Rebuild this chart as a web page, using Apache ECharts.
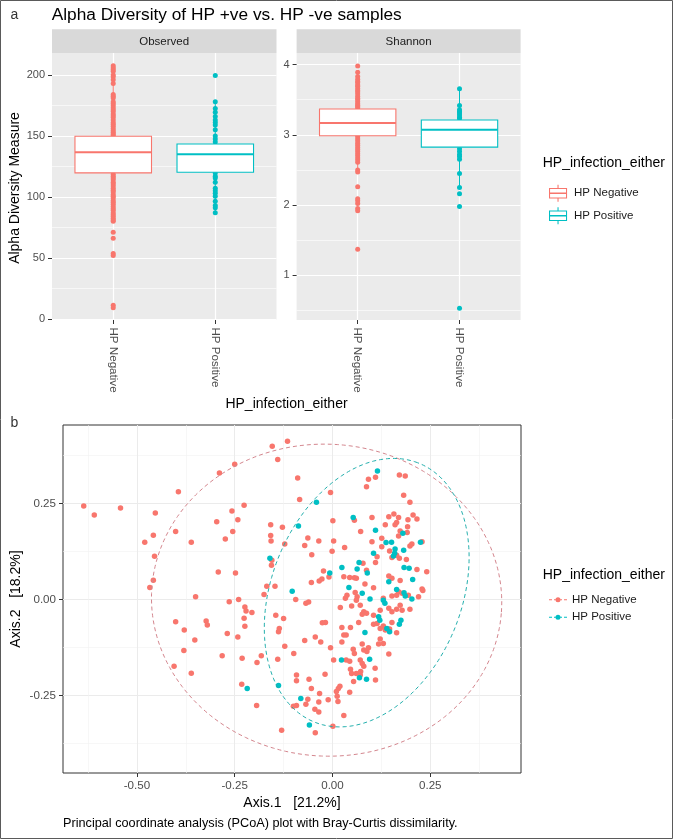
<!DOCTYPE html>
<html>
<head>
<meta charset="utf-8">
<script src="https://cdn.jsdelivr.net/npm/echarts@6/dist/echarts.min.js"></script>
<style>
html,body{margin:0;padding:0;background:#fff;}
#chart{width:673px;height:839px;}
</style>
</head>
<body>
<div id="chart"></div>
<script>
// ---------- data ----------
const categories = ['HP Negative', 'HP Positive'];

// Panel a: alpha diversity sample values (one dot per sample)
const observedNegative = [207.5, 206, 204.5, 203, 200, 198.5, 196, 193, 184, 182.5, 181, 178, 176.5, 175, 173, 171.5, 170, 168, 166.5, 165, 163, 161, 159.5, 158, 156, 154.5, 153, 151.5, 150.5,
  122, 126, 131, 136, 141, 146,
  118.5, 117, 115.5, 114, 112, 110.5, 109, 107, 105.5, 104, 102, 100.5, 99, 97, 95.5, 94, 92, 90.5, 89, 87, 85.5, 84, 82.5, 81, 80, 71, 66, 53.5, 52, 11, 9];
const observedPositive = [199.5, 178, 172.5, 169.5, 166, 163, 161, 159, 155, 150, 147.5, 145,
  124, 128, 132, 136, 140,
  119.5, 117, 115.5, 112, 107, 105, 103, 100.5, 96.5, 93, 91, 87];
const shannonNegative = [3.98, 3.89, 3.83, 3.79, 3.76, 3.74, 3.71, 3.69, 3.66, 3.63, 3.61, 3.58, 3.55, 3.52, 3.50, 3.47, 3.44, 3.42, 3.40, 3.38,
  3.0, 3.1, 3.2, 3.3,
  2.97, 2.94, 2.91, 2.88, 2.85, 2.82, 2.79, 2.76, 2.73, 2.70, 2.67, 2.64, 2.61, 2.50, 2.47, 2.26, 2.09, 2.06, 2.02, 1.95, 1.92, 1.37];
const shannonPositive = [3.656, 3.418, 3.356, 3.33, 3.31, 3.28, 3.25, 3.23,
  2.9, 3.0, 3.1,
  2.80, 2.76, 2.72, 2.69, 2.65, 2.45, 2.25, 2.16, 1.98, 0.53];

// box statistics: [lower whisker, Q1, median, Q3, upper whisker]
const observedBoxNegative = [80, 119.7, 136.6, 149.7, 193];
const observedBoxPositive = [87, 120.2, 135, 143.4, 178];
const shannonBoxNegative = [2.47, 2.986, 3.166, 3.366, 3.90];
const shannonBoxPositive = [2.25, 2.824, 3.07, 3.21, 3.656];

const observedTicks = [0, 50, 100, 150, 200];
const observedMinor = [25, 75, 125, 175];
const shannonTicks = [1, 2, 3, 4];
const shannonMinor = [0.5, 1.5, 2.5, 3.5];

// Panel b: PCoA coordinates [Axis.1, Axis.2]
const pcoaNegative = [
[-0.115,0.412],[-0.154,0.399],[-0.140,0.364],[-0.250,0.352],[-0.289,0.329],[-0.089,0.316],[-0.394,0.280],[-0.084,0.260],[-0.636,0.243],[-0.609,0.220],
[-0.542,0.238],[-0.453,0.225],[-0.226,0.245],[-0.257,0.230],[-0.242,0.207],[-0.296,0.202],[-0.158,0.194],[-0.128,0.188],[-0.458,0.167],[-0.480,0.149],
[-0.401,0.177],[-0.255,0.177],[-0.274,0.157],[-0.361,0.149],[-0.158,0.166],[-0.157,0.152],[-0.122,0.144],[-0.063,0.160],[-0.035,0.152],[-0.071,0.140],
[-0.053,0.116],[-0.155,0.102],[-0.156,0.089],[-0.455,0.112],[-0.292,0.071],[-0.248,0.069],[-0.458,0.050],[-0.467,0.031],[-0.023,0.074],[-0.027,0.053],
[-0.034,0.048],[-0.054,0.044],[-0.009,0.058],[-0.147,0.034],[-0.168,0.034],[-0.175,0.013],[-0.350,0.007],[-0.264,-0.006],[-0.240,0.000],[-0.224,-0.020],
[-0.221,-0.030],[-0.206,-0.034],[-0.226,-0.049],[-0.224,-0.070],[-0.094,0.000],[-0.068,-0.010],[-0.061,-0.007],[-0.125,-0.050],[-0.145,-0.041],[-0.136,-0.076],
[-0.138,-0.084],[-0.122,-0.122],[-0.099,-0.141],[-0.071,-0.107],[-0.044,-0.098],[-0.030,-0.111],[-0.018,-0.060],[-0.026,-0.061],[-0.019,-0.195],[-0.060,-0.208],
[-0.092,-0.197],[-0.092,-0.212],[-0.054,-0.232],[-0.033,-0.245],[-0.063,-0.260],[-0.035,-0.267],[-0.068,-0.273],[-0.092,-0.276],[-0.100,-0.278],[-0.045,-0.286],
[-0.035,-0.293],[-0.044,-0.347],[0.001,-0.330],[0.029,-0.302],[-0.130,-0.341],[-0.194,-0.276],[-0.232,-0.221],[-0.193,-0.164],[-0.182,-0.147],[-0.140,-0.156],
[-0.231,-0.153],[-0.282,-0.147],[-0.242,-0.098],[-0.269,-0.089],[-0.323,-0.056],[-0.320,-0.067],[-0.352,-0.106],[-0.379,-0.080],[-0.401,-0.058],[-0.380,-0.133],
[-0.405,-0.174],[-0.361,-0.192],
[-0.005,0.278],[0.092,0.313],[0.110,0.318],[0.087,0.293],[0.171,0.324],[0.186,0.321],[0.182,0.271],[0.198,0.253],[0.101,0.213],[0.144,0.215],
[0.157,0.222],[0.169,0.213],[0.164,0.200],[0.160,0.194],[0.193,0.207],[0.216,0.209],[0.206,0.220],[0.135,0.194],[0.192,0.189],[0.191,0.174],
[0.173,0.178],[0.169,0.165],[0.126,0.159],[0.101,0.150],[0.072,0.177],[0.056,0.206],[0.001,0.205],[0.003,0.152],[0.031,0.135],[-0.001,0.125],
[0.126,0.137],[0.146,0.126],[0.152,0.109],[0.164,0.115],[0.171,0.107],[0.189,0.104],[0.198,0.139],[0.203,0.144],[0.229,0.150],[0.114,0.111],
[0.110,0.096],[0.078,0.094],[0.087,0.076],[0.029,0.059],[0.044,0.057],[0.056,0.056],[0.061,0.055],[0.241,0.072],[0.216,0.078],[0.144,0.061],
[0.152,0.055],[0.173,0.049],[0.229,0.027],[0.083,0.040],[0.105,0.030],
[0.037,0.011],[0.058,0.018],[0.063,0.007],[0.061,-0.002],[0.033,0.003],[0.020,-0.021],[0.049,-0.017],[0.071,-0.015],[0.080,-0.032],[0.076,-0.039],
[0.087,-0.036],[0.067,-0.060],[0.046,-0.073],[0.024,-0.073],[0.029,-0.093],[0.035,-0.093],[0.024,-0.111],[-0.005,-0.126],[0.003,-0.158],[0.035,-0.158],
[0.044,-0.161],[0.053,-0.130],[0.056,-0.141],[0.076,-0.116],[0.080,-0.132],[0.088,-0.136],[0.092,-0.126],[0.071,-0.158],[0.076,-0.167],[0.080,-0.174],
[0.046,-0.182],[0.049,-0.193],[0.061,-0.193],[0.071,-0.197],[0.072,-0.188],[0.054,-0.214],[0.110,-0.210],[0.130,0.003],[0.152,0.009],[0.164,0.011],
[0.169,0.020],[0.178,0.016],[0.194,0.011],[0.220,0.007],[0.231,0.023],[0.173,-0.015],[0.198,-0.026],[0.164,-0.026],[0.178,-0.028],[0.152,-0.032],
[0.144,-0.023],[0.122,-0.028],[0.105,-0.065],[0.114,-0.063],[0.122,-0.076],[0.135,-0.080],[0.130,-0.069],[0.146,-0.077],[0.164,-0.087],[0.152,-0.060],
[0.105,-0.041],[0.122,-0.103],[0.130,-0.115],[0.118,-0.116],[0.144,-0.142],[0.015,-0.232],[0.010,-0.240],[0.019,-0.226],[0.012,-0.252],[0.044,-0.242],
[0.014,-0.266],[0.109,-0.179],[-0.011,-0.261]
];
const pcoaPositive = [
[0.115,0.334],[-0.041,0.253],[-0.087,0.191],[0.053,0.213],[0.110,0.180],[0.137,0.148],[0.151,0.149],[0.180,0.172],[0.225,0.149],[0.160,0.131],
[0.159,0.120],[0.156,0.113],[0.182,0.128],[0.105,0.120],[-0.160,0.107],[0.024,0.083],[0.068,0.096],[0.063,0.079],[0.089,0.069],[-0.007,0.069],
[0.183,0.083],[0.196,0.081],[0.205,0.052],[0.144,0.046],[0.042,0.031],[0.076,0.016],[0.164,0.026],[0.183,0.017],[0.186,0.009],[0.203,0.001],
[-0.103,0.021],[0.096,0.001],[0.130,-0.002],[0.134,-0.010],[0.118,-0.045],[0.121,-0.054],[0.139,-0.076],[0.146,-0.084],[0.175,-0.054],[0.171,-0.065],
[0.083,-0.086],[0.023,-0.158],[0.095,-0.156],[0.069,-0.204],[0.087,-0.208],[-0.138,-0.224],[-0.218,-0.232],[-0.081,-0.258],[-0.059,-0.327]
];
// ellipse outlines: [centre x, centre y, semi-axis 1, semi-axis 2, rotation in degrees]
const ellipseNegative = [-0.015, -0.002, 0.448, 0.406, -4];
const ellipsePositive = [0.0875, 0.0175, 0.3625, 0.2435, 69];

const pcoaXTicks = [-0.5, -0.25, 0, 0.25];
const pcoaXMinor = [-0.625, -0.375, -0.125, 0.125, 0.375];
const pcoaYTicks = [-0.25, 0, 0.25];
const pcoaYMinor = [-0.375, -0.125, 0.125, 0.375];

// ---------- styling ----------
const RED = '#F8766D', TEAL = '#00BFC4';
const FONT = '"Liberation Sans", Arial, sans-serif';

function ellipseOutline(p) {
  const [cx, cy, a, b, deg] = p;
  const th = deg * Math.PI / 180;
  const out = [];
  for (let i = 0; i <= 180; i++) {
    const t = i / 180 * 2 * Math.PI;
    out.push([cx + a * Math.cos(th) * Math.cos(t) - b * Math.sin(th) * Math.sin(t),
              cy + a * Math.sin(th) * Math.cos(t) + b * Math.cos(th) * Math.sin(t)]);
  }
  return out;
}

function renderBox(params, api) {
  const x = api.value(0);
  const lo = api.coord([x, api.value(1)]);
  const q1 = api.coord([x, api.value(2)]);
  const md = api.coord([x, api.value(3)]);
  const q3 = api.coord([x, api.value(4)]);
  const hi = api.coord([x, api.value(5)]);
  const w = api.size([0.75, 0])[0];
  const c = api.visual('color');
  return {
    type: 'group',
    children: [
      {type: 'line', shape: {x1: lo[0], y1: lo[1], x2: q1[0], y2: q1[1]}, style: {stroke: c, lineWidth: 1}},
      {type: 'line', shape: {x1: q3[0], y1: q3[1], x2: hi[0], y2: hi[1]}, style: {stroke: c, lineWidth: 1}},
      {type: 'rect', shape: {x: q3[0] - w / 2, y: q3[1], width: w, height: q1[1] - q3[1]}, style: {fill: '#fff', stroke: c, lineWidth: 1.1}},
      {type: 'line', shape: {x1: md[0] - w / 2, y1: md[1], x2: md[0] + w / 2, y2: md[1]}, style: {stroke: c, lineWidth: 2}}
    ]
  };
}

function mainValueAxis(gridIndex, min, max, ticks, fmt, grey, labelExtra, extra) {
  return Object.assign({
    type: 'value', gridIndex, min, max,
    axisLine: {show: false, onZero: false},
    axisTick: {show: true, length: 4, customValues: ticks, lineStyle: {color: '#333333', width: 1}},
    axisLabel: Object.assign({customValues: ticks, formatter: fmt, margin: 7,
      fontSize: 11, color: '#4D4D4D', fontFamily: FONT}, labelExtra || {}),
    splitLine: {show: true, lineStyle: {color: grey ? '#EBEBEB' : '#FFFFFF', width: grey ? 1 : 1.2}}
  }, extra || {});
}
function minorAxis(gridIndex, min, max, ticks, grey, extra) {
  return Object.assign({
    type: 'value', gridIndex, min, max,
    axisLine: {show: false, onZero: false},
    axisTick: {show: false, customValues: ticks},
    axisLabel: {show: false, customValues: ticks},
    splitLine: {show: true, lineStyle: {color: grey ? '#F2F2F2' : '#FFFFFF', width: 0.6}}
  }, extra || {});
}

const BOX_ICON = 'path://M0,3L17,3L17,4L0,4Z M0,12L17,12L17,13L0,13Z M0,4L1,4L1,12L0,12Z M16,4L17,4L17,12L16,12Z M1,7.3L16,7.3L16,8.7L1,8.7Z M8,0L9,0L9,3L8,3Z M8,13L9,13L9,16L8,16Z';
const DASH_ICON = 'path://M0,2L3,2L3,3L0,3Z M5,2L6.5,2L6.5,3L5,3Z M6.5,2.5A2.5,2.5 0 1 0 11.5,2.5A2.5,2.5 0 1 0 6.5,2.5Z M11.5,2L13,2L13,3L11.5,3Z M15,2L18,2L18,3L15,3Z';

const catFmt = v => categories[Math.round(v) - 1];
const fmt2 = v => Number(v).toFixed(2);
const fmt0 = v => String(Math.round(v));

function txt(text, x, y, size, opts) {
  opts = opts || {};
  return {
    type: 'text', x, y, silent: true, rotation: opts.rotation || 0,
    style: {
      text, fontSize: size, fontFamily: FONT, fill: opts.fill || '#000000',
      align: opts.align || 'left', textAlign: opts.align || 'left',
      verticalAlign: 'middle', textVerticalAlign: 'middle'
    }
  };
}

const chart = echarts.init(document.getElementById('chart'), null, {renderer: 'canvas'});

const option = {
  animation: false,
  backgroundColor: '#ffffff',
  textStyle: {fontFamily: FONT},
  grid: [
    {left: 52, top: 53, width: 224.5, height: 267, show: true, backgroundColor: '#EBEBEB', borderWidth: 0, containLabel: false, outerBoundsMode: 'none'},
    {left: 296.6, top: 53, width: 224, height: 267, show: true, backgroundColor: '#EBEBEB', borderWidth: 0, containLabel: false, outerBoundsMode: 'none'},
    {left: 63, top: 425, width: 458, height: 348, show: true, backgroundColor: '#FFFFFF', borderColor: '#333333', borderWidth: 1, containLabel: false, outerBoundsMode: 'none'}
  ],
  xAxis: [
    mainValueAxis(0, 0.4, 2.6, [1, 2], catFmt, false, {rotate: -90, margin: 7.5, fontSize: 11.6}, {position: 'bottom'}),
    mainValueAxis(1, 0.4, 2.6, [1, 2], catFmt, false, {rotate: -90, margin: 7.5, fontSize: 11.6}, {position: 'bottom'}),
    mainValueAxis(2, -0.689, 0.482, pcoaXTicks, fmt2, true, {fontSize: 11.6, margin: 7}, {position: 'bottom'}),
    minorAxis(2, -0.689, 0.482, pcoaXMinor, true, {position: 'top'})
  ],
  yAxis: [
    mainValueAxis(0, -1, 218, observedTicks, fmt0, false, {}, {position: 'left'}),
    minorAxis(0, -1, 218, observedMinor, false, {position: 'right'}),
    mainValueAxis(1, 0.363, 4.164, shannonTicks, fmt0, false, {}, {position: 'left'}),
    minorAxis(1, 0.363, 4.164, shannonMinor, false, {position: 'right'}),
    mainValueAxis(2, -0.452, 0.454, pcoaYTicks, fmt2, true, {fontSize: 11.6, margin: 7}, {position: 'left'}),
    minorAxis(2, -0.452, 0.454, pcoaYMinor, true, {position: 'right'})
  ],
  legend: [
    {
      left: 544, top: 179.8, orient: 'vertical', itemWidth: 22, itemHeight: 17, itemGap: 5.4,
      selectedMode: false,
      textStyle: {fontSize: 11.5, color: '#1A1A1A', fontFamily: FONT},
      data: [
        {name: 'HP Negative', icon: BOX_ICON, itemStyle: {color: RED, borderWidth: 0}},
        {name: 'HP Positive', icon: BOX_ICON, itemStyle: {color: TEAL, borderWidth: 0}}
      ]
    },
    {
      left: 544, top: 588.8, orient: 'vertical', itemWidth: 18, itemHeight: 17, itemGap: 5.4,
      selectedMode: false,
      textStyle: {fontSize: 11.5, color: '#1A1A1A', fontFamily: FONT},
      data: [
        {name: 'HP Negative', icon: DASH_ICON, itemStyle: {color: RED, borderWidth: 0}},
        {name: 'HP Positive', icon: DASH_ICON, itemStyle: {color: TEAL, borderWidth: 0}}
      ]
    }
  ],
  graphic: [
    {type: 'rect', silent: true, shape: {x: 0.5, y: 0.5, width: 672, height: 838}, style: {fill: 'none', stroke: '#5a5a5a', lineWidth: 1}},
    {type: 'rect', silent: true, shape: {x: 52, y: 29.3, width: 224.5, height: 23.7}, style: {fill: '#D9D9D9'}},
    {type: 'rect', silent: true, shape: {x: 296.6, y: 29.3, width: 224, height: 23.7}, style: {fill: '#D9D9D9'}},
    txt('a', 10.5, 15, 14, {fill: '#333333'}),
    txt('Alpha Diversity of HP +ve vs. HP -ve samples', 51.7, 15.5, 17.3),
    txt('Observed', 164.2, 41.5, 11.5, {fill: '#1A1A1A', align: 'center'}),
    txt('Shannon', 408.6, 41.5, 11.5, {fill: '#1A1A1A', align: 'center'}),
    txt('Alpha Diversity Measure', 15.5, 188, 14, {rotation: Math.PI / 2, align: 'center'}),
    txt('HP_infection_either', 286.5, 404, 14, {align: 'center'}),
    txt('HP_infection_either', 542.7, 163.3, 14),
    txt('b', 10.5, 423, 14, {fill: '#333333'}),
    txt('Axis.2   [18.2%]', 15.9, 599, 14, {rotation: Math.PI / 2, align: 'center'}),
    txt('Axis.1   [21.2%]', 292, 803, 14, {align: 'center'}),
    txt('HP_infection_either', 542.7, 575, 14),
    txt('Principal coordinate analysis (PCoA) plot with Bray-Curtis dissimilarity.', 63, 823, 12.7)
  ],
  series: [
    {type: 'scatter', name: 'HP Negative', xAxisIndex: 0, yAxisIndex: 0, symbolSize: 5, z: 2,
      itemStyle: {color: RED, opacity: 1}, data: observedNegative.map(v => [1, v])},
    {type: 'scatter', name: 'HP Positive', xAxisIndex: 0, yAxisIndex: 0, symbolSize: 5, z: 2,
      itemStyle: {color: TEAL, opacity: 1}, data: observedPositive.map(v => [2, v])},
    {type: 'scatter', name: 'HP Negative', xAxisIndex: 1, yAxisIndex: 2, symbolSize: 5, z: 2,
      itemStyle: {color: RED, opacity: 1}, data: shannonNegative.map(v => [1, v])},
    {type: 'scatter', name: 'HP Positive', xAxisIndex: 1, yAxisIndex: 2, symbolSize: 5, z: 2,
      itemStyle: {color: TEAL, opacity: 1}, data: shannonPositive.map(v => [2, v])},
    {type: 'custom', name: 'HP Negative', xAxisIndex: 0, yAxisIndex: 0, z: 3, renderItem: renderBox,
      itemStyle: {color: RED}, data: [[1].concat(observedBoxNegative)]},
    {type: 'custom', name: 'HP Positive', xAxisIndex: 0, yAxisIndex: 0, z: 3, renderItem: renderBox,
      itemStyle: {color: TEAL}, data: [[2].concat(observedBoxPositive)]},
    {type: 'custom', name: 'HP Negative', xAxisIndex: 1, yAxisIndex: 2, z: 3, renderItem: renderBox,
      itemStyle: {color: RED}, data: [[1].concat(shannonBoxNegative)]},
    {type: 'custom', name: 'HP Positive', xAxisIndex: 1, yAxisIndex: 2, z: 3, renderItem: renderBox,
      itemStyle: {color: TEAL}, data: [[2].concat(shannonBoxPositive)]},
    {type: 'scatter', name: 'HP Negative', xAxisIndex: 2, yAxisIndex: 4, symbolSize: 5.5, z: 2,
      itemStyle: {color: RED, opacity: 1}, data: pcoaNegative},
    {type: 'scatter', name: 'HP Positive', xAxisIndex: 2, yAxisIndex: 4, symbolSize: 5.5, z: 2,
      itemStyle: {color: TEAL, opacity: 1}, data: pcoaPositive},
    {type: 'line', name: 'HP Negative', xAxisIndex: 2, yAxisIndex: 4, z: 4, showSymbol: false, symbol: 'none', smooth: false,
      silent: true, lineStyle: {color: '#D4868E', width: 1, type: [4, 3]}, data: ellipseOutline(ellipseNegative)},
    {type: 'line', name: 'HP Positive', xAxisIndex: 2, yAxisIndex: 4, z: 4, showSymbol: false, symbol: 'none', smooth: false,
      silent: true, lineStyle: {color: '#23AFAD', width: 1, type: [4, 3]}, data: ellipseOutline(ellipsePositive)}
  ]
};
chart.setOption(option);
</script>
</body>
</html>
